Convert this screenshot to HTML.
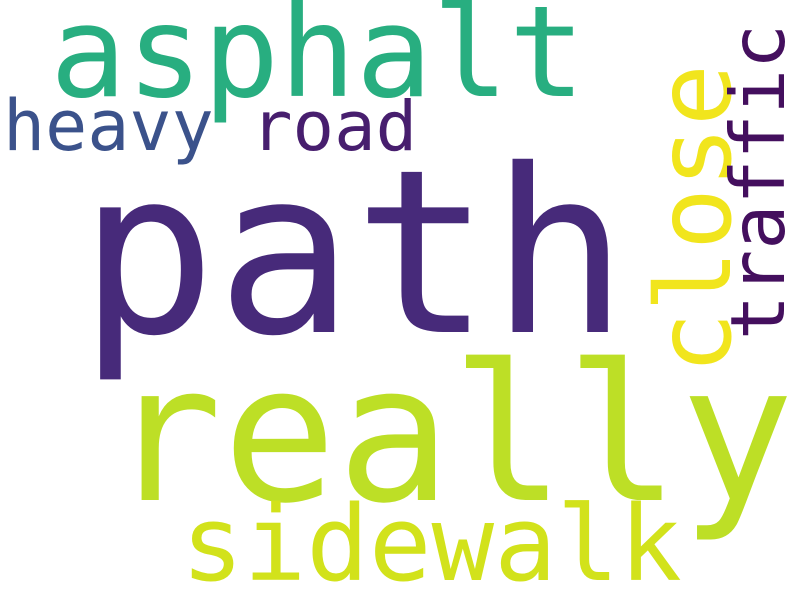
<!DOCTYPE html>
<html><head><meta charset="utf-8"><style>
html,body{margin:0;padding:0;background:#fff;}
svg{display:block;}
text{font-family:"DejaVu Sans Mono","Liberation Mono",monospace;}
</style></head><body>
<svg width="800" height="600" viewBox="0 0 800 600" xmlns="http://www.w3.org/2000/svg">
<rect width="800" height="600" fill="#fff"/>
<text x="50" y="96" font-size="127" fill="#28ae80">asphalt</text>
<text x="3" y="150" font-size="70" fill="#3b528b">heavy</text>
<text x="251" y="150" font-size="69" fill="#471e6e">road</text>
<text x="79" y="332" font-size="228" fill="#472a7a">path</text>
<text x="108" y="500" font-size="190" fill="#bddf26">really</text>
<text x="181" y="580" font-size="104" fill="#d2e21b">sidewalk</text>
<text x="730" y="374" font-size="103" fill="#f1e51d" transform="rotate(-90 730 374)">close</text>
<text x="784" y="340" font-size="75" fill="#440f5e" transform="rotate(-90 784 340)">traffic</text>
</svg>
</body></html>
